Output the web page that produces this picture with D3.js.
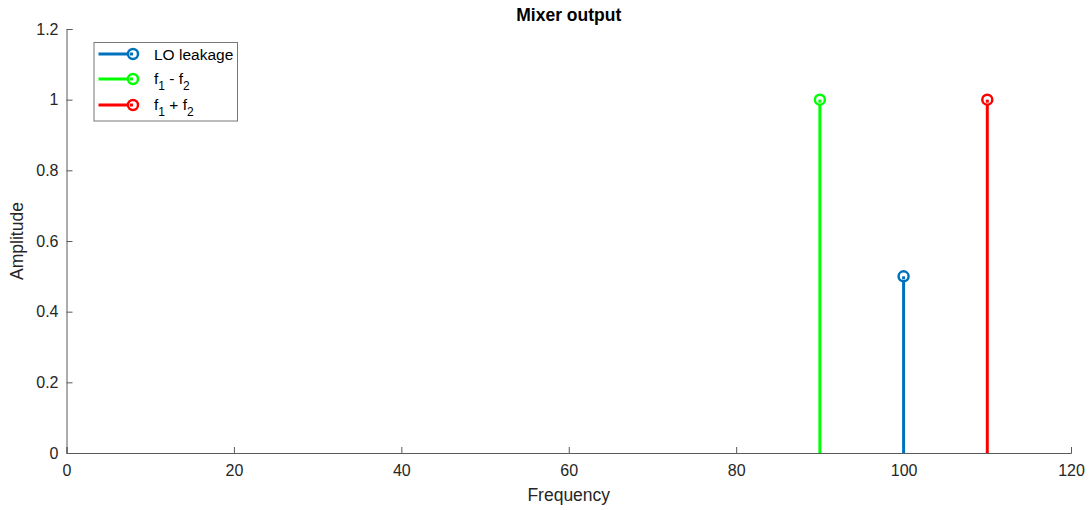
<!DOCTYPE html>
<html><head><meta charset="utf-8">
<script src="https://cdn.jsdelivr.net/npm/d3@7"></script>
<style>body{margin:0;background:#fff;} svg{display:block;font-family:"Liberation Sans",Arial,sans-serif;}</style>
</head><body>
<script>
const seriesNames = ["LO leakage", "f1 - f2", "f1 + f2"];
const seriesFreq = [100, 90, 110];
const seriesAmp = [0.5, 1, 1];
const seriesColors = ["#0072BD", "#00FF00", "#FF0000"];
const xTicks = [0, 20, 40, 60, 80, 100, 120];
const yTicks = [0, 0.2, 0.4, 0.6, 0.8, 1, 1.2];

const W = 1091, H = 510;
const m = {l: 66.5, r: 1071, t: 29, b: 453};
const svg = d3.select("body").append("svg").attr("width", W).attr("height", H);
const x = d3.scaleLinear().domain([0, 120]).range([m.l, m.r]);
const y = d3.scaleLinear().domain([0, 1.2]).range([m.b, m.t]);

const axisColor = "#5a5a5a";
const xa = svg.append("g").attr("transform", `translate(0,${m.b})`)
  .call(d3.axisBottom(x).tickValues(xTicks).tickSize(-6).tickPadding(12).tickFormat(d3.format("d")));
const ya = svg.append("g").attr("transform", `translate(${m.l},0)`)
  .call(d3.axisLeft(y).tickValues(yTicks).tickSize(-6).tickPadding(8).tickFormat(d => d === 0 || d === 1 ? d3.format("d")(d) : d3.format(".1f")(d)));
[xa, ya].forEach(a => {
  a.selectAll("path").attr("stroke", axisColor).attr("stroke-width", 1);
  a.selectAll("line").attr("stroke", axisColor);
  a.selectAll("text").attr("fill", "#262626").style("font-size", "16px").style("font-family", '"Liberation Sans",Arial,sans-serif');
});

svg.append("text").attr("x", (m.l + m.r) / 2).attr("y", 21).attr("text-anchor", "middle")
  .style("font-weight", "bold").style("font-size", "17.5px").attr("fill", "#000").text("Mixer output");
svg.append("text").attr("x", (m.l + m.r) / 2).attr("y", 501).attr("text-anchor", "middle")
  .style("font-size", "17.5px").attr("fill", "#262626").text("Frequency");
svg.append("text").attr("transform", `translate(23,${(m.t + m.b) / 2}) rotate(-90)`).attr("text-anchor", "middle")
  .style("font-size", "17.5px").attr("fill", "#262626").text("Amplitude");

const data = seriesNames.map((n, i) => ({name: n, f: seriesFreq[i], a: seriesAmp[i], c: seriesColors[i]}));
const g = svg.append("g");
data.forEach(d => {
  g.append("line").attr("x1", x(d.f)).attr("x2", x(d.f)).attr("y1", y(0)).attr("y2", y(d.a))
    .attr("stroke", d.c).attr("stroke-width", 3);
  g.append("circle").attr("cx", x(d.f)).attr("cy", y(d.a)).attr("r", 5)
    .attr("fill", "#fff").attr("stroke", d.c).attr("stroke-width", 2.5);
  g.append("line").attr("x1", x(d.f)).attr("x2", x(d.f)).attr("y1", y(d.a)).attr("y2", y(d.a) + 3)
    .attr("stroke", d.c).attr("stroke-width", 3);
});

// legend
const lg = svg.append("g");
lg.append("rect").attr("x", 94).attr("y", 42.5).attr("width", 143.5).attr("height", 78.5)
  .attr("fill", "#fff").attr("stroke", "#777").attr("stroke-width", 1);
const rowsY = [54, 79, 105];
data.forEach((d, k) => {
  const yy = rowsY[k];
  lg.append("line").attr("x1", 98.5).attr("x2", 133).attr("y1", yy).attr("y2", yy).attr("stroke", d.c).attr("stroke-width", 3);
  lg.append("circle").attr("cx", 133).attr("cy", yy).attr("r", 5).attr("fill", "#fff").attr("stroke", d.c).attr("stroke-width", 2.5);
  lg.append("line").attr("x1", 133).attr("x2", 130).attr("y1", yy).attr("y2", yy).attr("stroke", d.c).attr("stroke-width", 3);
});
const tx = 154;
const fs = "15.5px";
lg.append("text").attr("x", tx).attr("y", 60).style("font-size", fs).attr("fill", "#000").text(seriesNames[0]);
function sub(row, op, base) {
  const t = lg.append("text").attr("x", tx).attr("y", base).style("font-size", fs).attr("fill", "#000");
  t.append("tspan").text("f");
  t.append("tspan").attr("dy", 6).style("font-size", "12px").text("1");
  t.append("tspan").attr("dy", -6).text(" " + op + " f");
  t.append("tspan").attr("dy", 6).style("font-size", "12px").text("2");
}
sub(1, "-", 84);
sub(2, "+", 110);
</script>
</body></html>
